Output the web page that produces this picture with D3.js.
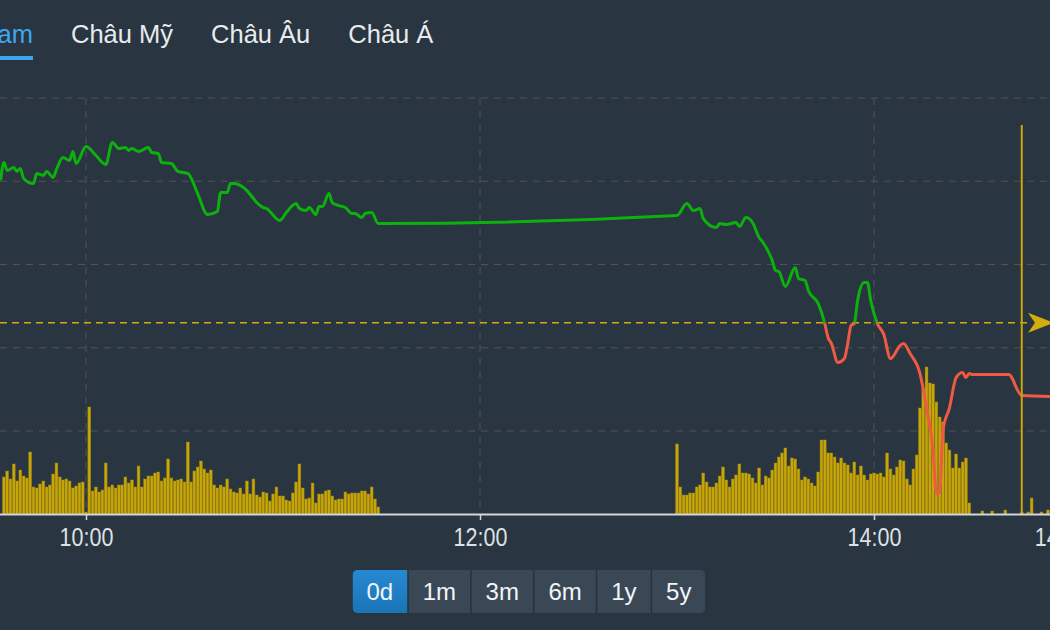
<!DOCTYPE html>
<html>
<head>
<meta charset="utf-8">
<script src="https://cdn.jsdelivr.net/npm/d3@7"></script>
<style>
  body { margin: 0; background: #293540; overflow: hidden; }
  svg { display: block; font-family: "Liberation Sans", Arial, sans-serif; }
</style>
</head>
<body>
<script>
// tabs and range buttons
var tabs = ["Việt Nam", "Châu Mỹ", "Châu Âu", "Châu Á"];
var activeTab = 0;
var ranges = ["0d", "1m", "3m", "6m", "1y", "5y"];
var activeRange = 0;

// axes
var priceTicks = [1270, 1275, 1280, 1285, 1290];
var timeTicks = ["10:00", "12:00", "14:00", "14:57"];
var refPrice = 1276.5;
var nowTime = "14:45";

// index line (time, points)
var priceTimes = ["09:34","09:35","09:36","09:38","09:39","09:40","09:41","09:44","09:45","09:47",
  "09:48","09:50","09:51","09:53","09:55","09:56","09:57","10:00","10:03","10:06",
  "10:08","10:10","10:12","10:13","10:14","10:16","10:19","10:20","10:22","10:23",
  "10:26","10:28","10:31","10:34","10:37","10:40","10:41","10:43","10:44","10:45",
  "10:49","10:51","10:52","10:54","10:55","10:59","11:01","11:04","11:05","11:07",
  "11:08","11:10","11:11","11:12","11:14","11:15","11:17","11:19","11:21","11:22",
  "11:24","11:25","11:27","11:29","11:30","13:00","13:03","13:05","13:07","13:08",
  "13:12","13:13","13:15","13:18","13:19","13:21","13:23","13:25","13:26","13:29",
  "13:30","13:31","13:33","13:36","13:37","13:39","13:40","13:43","13:45","13:46",
  "13:47","13:49","13:51","13:52","13:53","13:54","13:55","13:57","13:58","13:59",
  "14:01","14:03","14:05","14:08","14:09","14:11","14:14","14:16","14:18","14:19",
  "14:20","14:21","14:23","14:25","14:27","14:28","14:29","14:30","14:41","14:45","14:54"];
var priceValues = [1285.05,1286.13,1285.65,1285.83,1285.59,1285.77,1285.17,1284.86,1285.47,1285.35,
  1285.59,1285.23,1285.71,1286.43,1286.25,1286.79,1286.07,1287.09,1286.55,1286.01,
  1287.33,1286.97,1287.03,1286.85,1286.97,1286.79,1287.03,1286.73,1286.67,1286.13,
  1286.07,1285.59,1285.47,1284.26,1283.00,1283.18,1284.32,1284.32,1284.86,1284.86,
  1284.44,1283.96,1283.72,1283.42,1283.36,1282.64,1283.12,1283.66,1283.36,1283.24,
  1283.42,1283.00,1283.48,1283.48,1284.26,1283.72,1283.54,1283.42,1283.06,1283.06,
  1282.82,1283.06,1283.12,1282.46,1282.46,1282.94,1283.66,1283.24,1283.36,1282.76,
  1282.22,1282.46,1282.40,1282.52,1282.28,1282.82,1282.52,1281.62,1281.38,1280.24,
  1279.64,1279.58,1278.68,1279.82,1279.16,1279.04,1278.44,1277.66,1276.46,1275.62,
  1275.26,1274.11,1274.35,1275.26,1276.34,1276.46,1277.84,1278.92,1278.92,1277.84,
  1276.46,1275.80,1274.35,1275.14,1275.26,1274.65,1273.45,1271.41,1268.83,1266.25,
  1266.31,1270.03,1271.41,1273.21,1273.51,1273.21,1273.45,1273.39,1273.39,1272.13,1272.07];

// volume per minute (million shares)
var volMorningStart = "09:35";
var volMorning = [3.7,4.3,3.5,5.0,3.3,4.4,3.8,3.6,6.2,2.7,
  2.6,3.0,3.3,2.7,2.9,4.0,5.1,3.7,3.4,3.5,
  3.3,2.6,2.8,3.1,3.2,0.2,10.7,2.3,2.7,2.2,
  2.4,5.1,2.7,2.9,2.6,2.9,2.9,3.7,3.1,3.4,
  2.7,4.8,2.7,3.5,3.8,3.8,4.1,4.2,3.3,3.6,
  5.5,3.6,3.3,3.4,3.5,3.2,7.2,3.2,
  4.3,4.7,5.3,4.5,4.1,4.4,2.9,2.6,2.9,2.7,
  3.5,2.5,2.2,2.1,2.6,2.0,3.3,2.0,3.5,1.9,
  1.7,2.2,2.1,1.3,2.0,2.7,1.8,1.8,1.4,1.3,
  2.1,3.2,5.0,2.6,1.5,1.6,3.1,1.1,2.0,2.0,
  2.3,2.4,1.8,1.4,1.5,1.5,2.2,2.0,2.1,2.1,
  2.1,2.3,2.3,2.0,2.7,1.5,0.7];
var volAfternoonStart = "13:00";
var volAfternoon = [7.0,2.7,1.9,1.9,2.1,2.1,2.7,2.9,4.1,3.2,
  2.7,2.7,3.1,3.8,4.7,3.4,2.7,3.5,3.9,5.0,
  4.1,4.1,4.0,3.6,3.1,4.6,2.9,3.8,3.6,4.4,
  5.1,5.7,6.1,6.6,
  4.8,5.6,5.5,4.5,3.4,3.7,3.5,3.1,2.8,4.2,
  7.4,7.4,6.1,6.1,5.7,5.1,5.6,5.1,4.9,4.1,
  5.2,3.9,4.8,3.9,3.4,4.0,4.1,4.0,4.1,3.7,
  6.1,4.5,3.9,4.7,5.4,5.3,3.5,2.9,4.5,5.9,
  10.6,12.6,14.7,13.1,13.0,11.2,9.7,9.2,7.1,6.4,
  4.6,6.0,4.6,5.2,5.6,1.1];
var volLateTimes = ["14:33","14:36","14:40","14:45","14:47","14:48","14:51","14:53"];
var volLate = [0.3,0.3,0.4,0.2,0.2,1.6,0.2,0.4];

var width = 1050, height = 630;
var plot = {top: 125, bottom: 514};

var parseTime = d3.timeParse("%H:%M");

var svg = d3.select("body").append("svg")
    .attr("width", width)
    .attr("height", height);

// scales
var x = d3.scaleTime()
    .domain([parseTime("09:00"), parseTime("15:00")])
    .range([-111, 1071]);
var y = d3.scaleLinear()
    .domain([1270, 1290])
    .range([431, 98]);
var yVol = d3.scaleLinear()
    .domain([0, 15])
    .range([plot.bottom, plot.bottom - 150]);

// grid
var gridColor = "#57534c";
svg.append("g").selectAll("line")
  .data(priceTicks)
  .enter().append("line")
    .attr("x1", 0).attr("x2", width)
    .attr("y1", d => y(d)).attr("y2", d => y(d))
    .attr("stroke", gridColor)
    .attr("stroke-width", 1)
    .attr("stroke-dasharray", "7,6");

svg.append("g").selectAll("line")
  .data(timeTicks.map(parseTime).filter(d => x(d) < width))
  .enter().append("line")
    .attr("x1", d => x(d)).attr("x2", d => x(d))
    .attr("y1", y(1290)).attr("y2", plot.bottom)
    .attr("stroke", gridColor)
    .attr("stroke-width", 1)
    .attr("stroke-dasharray", "7,6");

// volume bars
var vols = [];
volMorning.forEach((v, i) => vols.push({t: d3.timeMinute.offset(parseTime(volMorningStart), i), v: v}));
volAfternoon.forEach((v, i) => vols.push({t: d3.timeMinute.offset(parseTime(volAfternoonStart), i), v: v}));
volLate.forEach((v, i) => vols.push({t: parseTime(volLateTimes[i]), v: v}));

var barW = 2.8;
svg.append("g").selectAll("rect")
  .data(vols)
  .enter().append("rect")
    .attr("x", d => x(d.t) - barW / 2)
    .attr("y", d => yVol(d.v))
    .attr("width", barW)
    .attr("height", d => plot.bottom - yVol(d.v))
    .attr("fill", "#c7a608")
    .attr("stroke", "#9a8210")
    .attr("stroke-width", 0.5);

// reference price line
var yRef = y(refPrice);
svg.append("line")
    .attr("x1", 0).attr("x2", 1032)
    .attr("y1", yRef).attr("y2", yRef)
    .attr("stroke", "#d2ae0c")
    .attr("stroke-width", 1.6)
    .attr("stroke-dasharray", "7,5");
svg.append("path")
    .attr("d", "M1028," + (yRef - 10) + "L1054," + yRef + "L1028," + (yRef + 10) + "L1035," + yRef + "Z")
    .attr("fill", "#d2ae0c");

// price line, green above reference, red below
var defs = svg.append("defs");
defs.append("clipPath").attr("id", "clip-up")
  .append("rect").attr("x", 0).attr("y", 0).attr("width", width).attr("height", yRef);
defs.append("clipPath").attr("id", "clip-down")
  .append("rect").attr("x", 0).attr("y", yRef).attr("width", width).attr("height", height - yRef);

var prices = priceTimes.map((t, i) => ({t: parseTime(t), p: priceValues[i]}));
var line = d3.line()
    .x(d => x(d.t))
    .y(d => y(d.p))
    .curve(d3.curveMonotoneX);

svg.append("path")
    .datum(prices)
    .attr("clip-path", "url(#clip-up)")
    .attr("d", line)
    .attr("fill", "none")
    .attr("stroke", "#0db10d")
    .attr("stroke-width", 3)
    .attr("stroke-linejoin", "round");
svg.append("path")
    .datum(prices)
    .attr("clip-path", "url(#clip-down)")
    .attr("d", line)
    .attr("fill", "none")
    .attr("stroke", "#ee5a43")
    .attr("stroke-width", 3)
    .attr("stroke-linejoin", "round");

// current time marker
svg.append("line")
    .attr("x1", x(parseTime(nowTime))).attr("x2", x(parseTime(nowTime)))
    .attr("y1", plot.top).attr("y2", plot.bottom)
    .attr("stroke", "#c9a70a")
    .attr("stroke-width", 2);

// time axis
var xAxis = d3.axisBottom(x)
    .tickValues(timeTicks.map(parseTime))
    .tickFormat(d3.timeFormat("%H:%M"))
    .tickSize(6)
    .tickSizeOuter(0)
    .tickPadding(8);

var gx = svg.append("g")
    .attr("transform", "translate(0," + plot.bottom + ")")
    .call(xAxis);
gx.select(".domain").attr("stroke", "#d4d6d8").attr("stroke-width", 2);
gx.selectAll(".tick line").attr("stroke", "#d4d6d8").attr("stroke-width", 1.5);
gx.selectAll(".tick text")
    .attr("fill", "#dfe1e3")
    .attr("transform", "scale(0.86,1)")
    .style("font-size", "25px");

// tabs
var tabG = svg.append("g");
var tabText = tabG.selectAll("text")
  .data(tabs)
  .enter().append("text")
    .attr("y", 43)
    .style("font-size", "25.5px")
    .attr("fill", (d, i) => i == activeTab ? "#3fa7ef" : "#e8ebee")
    .text(d => d);
var tx = 33;
tabText.each(function(d, i) {
  var w = this.getComputedTextLength();
  if (i == 0) tx = 33 - w;
  d3.select(this).attr("x", tx);
  if (i == activeTab) {
    tabG.append("rect")
      .attr("x", tx).attr("y", 56)
      .attr("width", w).attr("height", 4)
      .attr("fill", "#3ba5ee");
  }
  tx += w + 38;
});

// range buttons
var grad = defs.append("linearGradient").attr("id", "btn-active")
    .attr("x1", 0).attr("y1", 0).attr("x2", 0).attr("y2", 1);
grad.append("stop").attr("offset", "0%").attr("stop-color", "#2689d1");
grad.append("stop").attr("offset", "100%").attr("stop-color", "#1a74b8");

var btnTop = 570, btnH = 43, btnPad = 28, btnGap = 1.5;
var btnG = svg.append("g");
var btnText = btnG.selectAll("text")
  .data(ranges)
  .enter().append("text")
    .attr("y", btnTop + 30)
    .attr("text-anchor", "middle")
    .style("font-size", "24px")
    .attr("fill", "#f2f4f6")
    .text(d => d);
var widths = [];
btnText.each(function() { widths.push(this.getComputedTextLength() + btnPad); });
var total = d3.sum(widths) + btnGap * (ranges.length - 1);
var bx = 529 - total / 2;

defs.append("clipPath").attr("id", "btn-clip")
  .append("rect").attr("x", bx).attr("y", btnTop)
    .attr("width", total).attr("height", btnH).attr("rx", 5);
var btnRects = btnG.insert("g", "text").attr("clip-path", "url(#btn-clip)");
btnRects.append("rect")
    .attr("x", bx).attr("y", btnTop).attr("width", total).attr("height", btnH)
    .attr("fill", "#25313b");
var cx = bx;
ranges.forEach((r, i) => {
  btnRects.append("rect")
    .attr("x", cx).attr("y", btnTop)
    .attr("width", widths[i]).attr("height", btnH)
    .attr("fill", i == activeRange ? "url(#btn-active)" : "#3a4856");
  d3.select(btnText.nodes()[i]).attr("x", cx + widths[i] / 2);
  cx += widths[i] + btnGap;
});
</script>
</body>
</html>
